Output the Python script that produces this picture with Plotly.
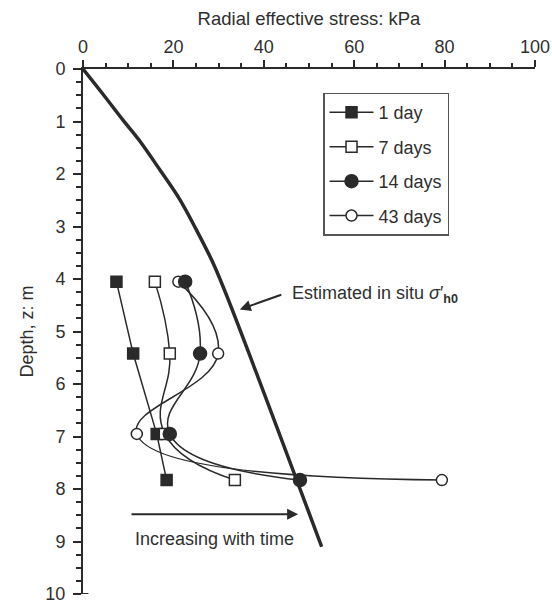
import plotly.graph_objects as go

# ---- data ----
depth_pts = [4.05, 5.42, 6.95, 7.83]
day1 = [7.4, 11.1, 16.3, 18.5]
day7 = [15.9, 19.2, 18.1, 33.6]
day14 = [22.6, 25.9, 19.2, 48.0]
day43 = [21.1, 29.9, 11.9, 79.4]

insitu_stress = [0, 4.6, 8.9, 12.8, 17.0, 21.3, 25.0, 28.8, 32.4, 52.8]
insitu_depth = [0, 0.5, 0.98, 1.4, 1.92, 2.47, 3.05, 3.7, 4.45, 9.1]

x_ticks = [0, 20, 40, 60, 80, 100]
y_ticks = list(range(0, 11))

INK = "#2a2a2a"
TXT = "#2f2f2f"

fig = go.Figure()

# estimated in situ line
fig.add_trace(go.Scatter(
    x=insitu_stress, y=insitu_depth, mode="lines",
    line=dict(color=INK, width=3.5, shape="spline", smoothing=1.0),
    showlegend=False, hoverinfo="skip"))

def series(name, xs, symbol, fill, shape, rank, size):
    fig.add_trace(go.Scatter(
        x=xs, y=depth_pts, name=name, mode="lines+markers",
        legendgroup=name, legendrank=rank,
        line=dict(color=INK, width=1.5, shape=shape, smoothing=1.3),
        marker=dict(symbol=symbol, size=size, color=fill,
                    line=dict(color=INK, width=1.5))))

series("1 day", day1, "square", INK, "linear", 1, 11)
series("7 days", day7, "square", "white", "spline", 2, 11)
series("43 days", day43, "circle", "white", "spline", 4, 11)
series("14 days", day14, "circle", INK, "spline", 3, 13)

fig.update_layout(
    width=552, height=606,
    margin=dict(l=83, r=17, t=69, b=12),
    paper_bgcolor="white", plot_bgcolor="white",
    font=dict(family="Liberation Sans, Arial, sans-serif", size=18, color=TXT),
    xaxis=dict(
        side="top", range=[0, 100], tickvals=x_ticks, automargin=False,
        ticks="outside", ticklen=7, tickwidth=1.5, tickcolor=INK,
        showline=True, linecolor=INK, linewidth=2,
        showgrid=False, zeroline=False, ticklabeloverflow="allow",
        minor=dict(dtick=5, tick0=0, ticks="outside", ticklen=4,
                   tickwidth=1.5, tickcolor=INK, showgrid=False),
        title=dict(text="Radial effective stress: kPa", standoff=6,
                   font=dict(size=18.5)),
    ),
    yaxis=dict(
        range=[10, 0], tickvals=y_ticks, automargin=False,
        ticks="outside", ticklen=8, tickwidth=1.5, tickcolor=INK,
        showline=True, linecolor=INK, linewidth=2,
        showgrid=False, zeroline=False, ticklabeloverflow="allow",
        ticklabelstandoff=4,
        minor=dict(dtick=0.25, tick0=0, ticks="outside", ticklen=5,
                   tickwidth=1.5, tickcolor=INK, showgrid=False),
        title=dict(text="Depth, z: m", standoff=7, font=dict(size=18)),
    ),
    legend=dict(
        x=0.531, y=0.955, xanchor="left", yanchor="top",
        bordercolor="#555555", borderwidth=1.5, bgcolor="white",
        font=dict(size=18, color=TXT), tracegroupgap=8, itemwidth=44,
    ),
)

# small hook at bottom of the depth axis
fig.add_shape(type="line", xref="x", yref="y", x0=0, x1=1.2, y0=10, y1=10,
              line=dict(color=INK, width=2))

# annotations
fig.add_annotation(x=34.7, y=4.58, ax=44.2, ay=4.29, axref="x", ayref="y",
                   xref="x", yref="y", text="", showarrow=True,
                   arrowhead=2, arrowsize=1.1, arrowwidth=2, arrowcolor=INK)
fig.add_annotation(x=45.8, y=4.3, xref="x", yref="y", xanchor="left",
                   text="Estimated in situ <i>σ</i>′<sub><b>h0</b></sub>",
                   showarrow=False, font=dict(size=18, color=TXT))
fig.add_annotation(x=47.6, y=8.48, ax=10.4, ay=8.48, axref="x", ayref="y",
                   xref="x", yref="y", text="", showarrow=True,
                   arrowhead=2, arrowsize=1.1, arrowwidth=2, arrowcolor=INK)
fig.add_annotation(x=29.1, y=8.96, xref="x", yref="y",
                   text="Increasing with time", showarrow=False,
                   font=dict(size=18, color=TXT))

fig.write_html("out.html")
